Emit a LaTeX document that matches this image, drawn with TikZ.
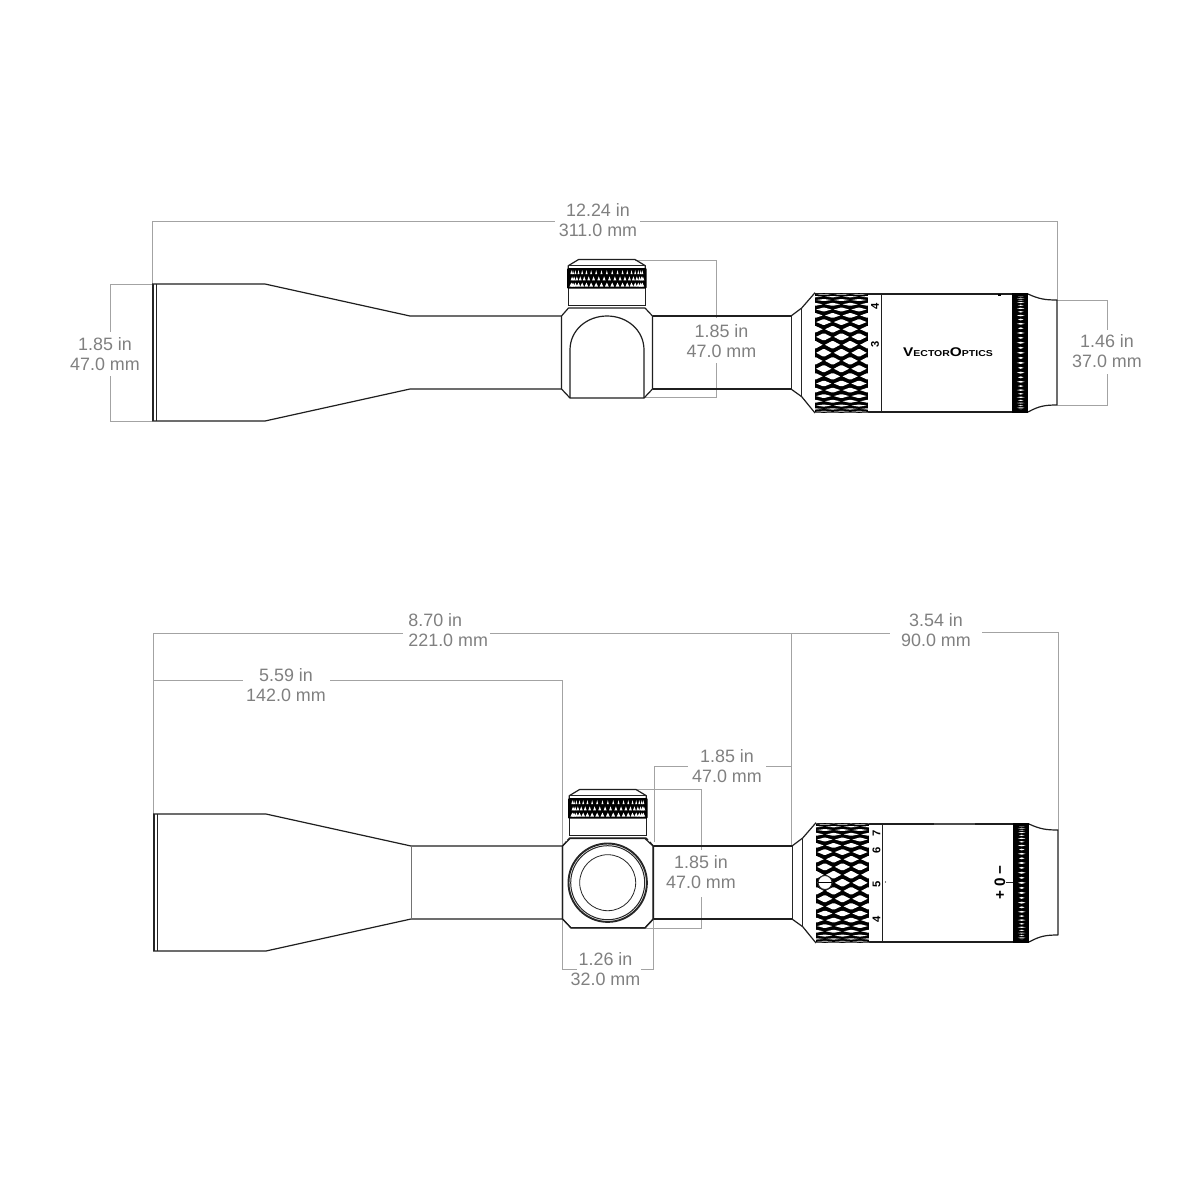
\documentclass[tikz,border=0pt]{standalone}
\usepackage{fontspec}
\setmainfont{Liberation Sans}
\definecolor{dimline}{HTML}{A3A3A3}
\definecolor{dimtxt}{HTML}{808080}
\tikzset{
  outline/.style={draw=black!88,line width=.6pt,line join=round},
  thinline/.style={draw=black!85,line width=.4pt},
  dimpath/.style={draw=dimline,line width=.5pt},
  dimlabel/.style={text=dimtxt,font=\fontsize{8.95}{10}\selectfont,align=center,inner sep=0pt},
  scale mark/.style={font=\fontsize{5.6}{6}\selectfont\bfseries,rotate=90,inner sep=0pt,text=black},
}
% coarse diamond knurl: x0 x1 cy R
\newcommand{\diamondknurl}[4]{%
  \fill[black] (#1,{#3-#4}) rectangle (#2,{#3+#4});
  \begin{scope}
    \clip (#1,{#3-#4}) rectangle (#2,{#3+#4});
    \foreach \i in {-11,...,11}{
      \pgfmathsetmacro{\yc}{#3+#4*sin(\i*7.7)}
      \pgfmathsetmacro{\hh}{3.45*cos(\i*7.7)*cos(\i*7.7)+.15}
      \pgfmathsetmacro{\sh}{mod(abs(\i),2)==0 ? 8.8 : 0}
      \foreach \k in {0,1,2,3}{
        \pgfmathsetmacro{\xc}{#1+\sh+\k*17.6}
        \fill[white] ({\xc-7.6},\yc) -- ({\xc-1},{\yc-\hh}) -- ({\xc+1},{\yc-\hh}) -- ({\xc+7.6},\yc) -- ({\xc+1},{\yc+\hh}) -- ({\xc-1},{\yc+\hh}) -- cycle;
      }
    }
  \end{scope}}
% fine knurl: x0 x1 cy R
\newcommand{\fineknurl}[4]{%
  \fill[black] (#1,{#3-#4}) rectangle (#2,{#3+#4});
  \foreach \i in {-15,...,15}{
    \pgfmathsetmacro{\yc}{#3+(#4-2)*sin(\i*5)}
    \pgfmathsetmacro{\hh}{1.05*cos(\i*5)}
    \pgfmathsetmacro{\mid}{(#1+#2)/2}
    \pgfmathsetmacro{\wd}{mod(abs(\i),2)==0 ? 3.8 : 2.8}
    \fill[white] ({\mid-\wd+.7},\yc) -- ({\mid+.7},{\yc-\hh}) -- ({\mid+\wd+.7},\yc) -- ({\mid+.7},{\yc+\hh}) -- cycle;
  }}
% turret knurl: x0 x1 y0 y1
\newcommand{\turretknurl}[4]{%
  \fill[black,rounded corners=.5pt] (#1,#3) rectangle (#2,#4);
  \foreach \r/\off in {0/0,1/4.2,2/0}{
    \pgfmathsetmacro{\yc}{#3+4.2+\r*6.2}
    \pgfmathsetmacro{\hw}{1+\r*.45}
    \foreach \i in {-9,...,9}{
      \pgfmathsetmacro{\xd}{(#1+#2)/2+36.5*sin(\i*8.5+\off)}
      \fill[white] ({\xd-\hw},{\yc+2}) -- ({\xd+\hw},{\yc+2}) -- (\xd,{\yc-2}) -- cycle;
    }
  }}
\newcommand{\eyepiece}{%
  \draw[outline] (0,316) -- (10.7,308) -- (24,292.7);
  \draw[outline] (0,389) -- (10.7,396.7) -- (24,413);
  \draw[thinline] (0,316) -- (0,389);
  \draw[thinline] (10.7,308) -- (10.7,396.7);
  \draw[outline] (77,294) -- (221,294);
  \draw[outline] (77,412) -- (221,412);
  \draw[outline] (90.7,294) -- (90.7,412);
  \draw[outline] (237,294) .. controls (248,299) and (254,300) .. (266,300) -- (266,405) .. controls (254,405) and (248,406) .. (237,412);
  \diamondknurl{24}{77}{352.8}{60}
  \fineknurl{221}{237}{352.8}{60}
}
\newcommand{\objective}[1]{%
  \draw[outline] (#1,284) -- (265,284) -- (410,316) -- (561,316);
  \draw[outline] (#1,421) -- (265,421) -- (410,389) -- (561,389);
  \draw[outline] (653,316) -- (791,316);
  \draw[outline] (653,389) -- (791,389);
  \draw[draw=black!85,line width=.9pt] ({#1+.7},284) -- ({#1+.7},421);
  \draw[thinline] ({#1+4.6},284) -- ({#1+4.6},421);
}
\newcommand{\turret}{%
  \draw[outline] (561.5,316) -- (561.5,389) -- (570,398) -- (644,398) -- (652.5,389) -- (652.5,316) -- (645,308) -- (568.5,308) -- cycle;
  \draw[outline] (568.5,305.6) -- (645.3,305.6);
  \draw[outline] (568.3,288) -- (568.3,306) (645.3,288) -- (645.3,306);
  \draw[outline] (568.3,268) -- (568.3,265.7) -- (578.6,259.5) -- (635,259.5) -- (645.3,265.7) -- (645.3,268);
  \draw[thinline] (568.3,265.7) -- (645.3,265.7);
  \turretknurl{567}{646.7}{268}{288.5}
}
\begin{document}
\begin{tikzpicture}[x=.5pt,y=-.5pt]
\useasboundingbox (0,0) rectangle (1200,1200);
\fill[white] (0,0) rectangle (1200,1200);

% ===== top view: dimensions =====
\draw[dimpath] (152,284) -- (152,221) -- (555,221) (640,221) -- (1057,221) -- (1057,300);
\draw[dimpath] (152,284) -- (110,284) -- (110,332) (110,376) -- (110,421) -- (152,421);
\draw[dimpath] (635,260) -- (716,260) -- (716,318) (716,363) -- (716,397) -- (644,397);
\draw[dimpath] (1057,300) -- (1107,300) -- (1107,330) (1107,374) -- (1107,405) -- (1057,405);
\node[dimlabel] (lenT) at (598,220) {12.24 in\\311.0 mm};
\node[dimlabel] (objT) at (105,354) {1.85 in\\47.0 mm};
\node[dimlabel] (turT) at (721.5,341) {1.85 in\\47.0 mm};
\node[dimlabel] (eyeT) at (1107,351) {1.46 in\\37.0 mm};

% ===== top view: scope =====
\objective{152}
\turret
\draw[outline] (570,398) -- (570,350) .. controls (570,330) and (587,316) .. (607,316) .. controls (627,316) and (644,330) .. (644,350) -- (644,398);
\begin{scope}[shift={(791,0)}]\eyepiece\end{scope}
\node[scale mark] (t4) at (875,306) {4};
\node[scale mark] (t3) at (875,344) {3};
\fill[black] (997.5,294) rectangle (1001,296);
\node[inner sep=0pt,text=black] (logo) at (948,352.5) {\scalebox{1.22}[1]{\bfseries\fontsize{6.3}{6}\selectfont V\fontsize{4.3}{6}\selectfont ECTOR\fontsize{6.3}{6}\selectfont O\fontsize{4.3}{6}\selectfont PTICS}};

% ===== bottom view: dimensions =====
\draw[dimpath] (153,814) -- (153,633) -- (403,633) (490,633) -- (890,633);
\draw[dimpath] (982,632) -- (1058,632) -- (1058,830);
\draw[dimpath] (153,680.5) -- (243,680.5) (330,680.5) -- (562,680.5) -- (562,845);
\draw[dimpath] (791.5,633) -- (791.5,846);
\draw[dimpath] (654,842) -- (654,766) -- (688,766) (766,766) -- (791.5,766);
\draw[dimpath] (635,789) -- (701,789) -- (701,850) (701,897) -- (701,928) -- (630,928);
\draw[dimpath] (562,920) -- (562,969) -- (577,969) (641,969) -- (653.5,969) -- (653.5,920);
\node[dimlabel,align=left,anchor=west] (lenA) at (408,630) {8.70 in\\221.0 mm};
\node[dimlabel] (lenB) at (936,630) {3.54 in\\90.0 mm};
\node[dimlabel] (lenC) at (286,685) {5.59 in\\142.0 mm};
\node[dimlabel] (mntA) at (727,766) {1.85 in\\47.0 mm};
\node[dimlabel] (mntB) at (701,872) {1.85 in\\47.0 mm};
\node[dimlabel] (mntC) at (605.5,969) {1.26 in\\32.0 mm};

% ===== bottom view: scope =====
\begin{scope}[shift={(1,530)}]
  \objective{152}
  \turret
  \begin{scope}[shift={(791,0)}]\eyepiece\end{scope}
\end{scope}
\draw[draw=black!55,line width=.4pt] (411,846) -- (411,919);
\fill[white] (566,840) rectangle (650,918);
\draw[outline] (562.5,846) -- (562.5,919) -- (571,927.7) -- (645,927.7) -- (653,919) -- (653,846) -- (645,838.5) -- (570,838.5) -- cycle;
\draw[black!85,line width=.95pt] (607.7,882.7) circle (39.2);
\draw[black!85,line width=.5pt] (607.7,882.7) circle (37);
\draw[black!85,line width=.4pt] (607.7,882.7) circle (28);
% windage screw
\filldraw[fill=white,draw=black!85,line width=.5pt] (825,882.5) circle (7);
\draw[black,line width=.5pt] (818,882.5) -- (832,882.5);
\node[scale mark] (b7) at (876.5,833) {7};
\node[scale mark] (b6) at (876.5,850) {6};
\node[scale mark] (b5) at (876.5,884) {5};
\node[scale mark] (b4) at (876.5,919) {4};
\fill[black] (885.5,882) circle (.6);
\fill[black!70] (934,823) rectangle (975,825);
\node[rotate=90,inner sep=0pt,text=black,font=\fontsize{7.6}{8}\selectfont\bfseries] (zero) at (1000,882.5) {+ 0 −};
\draw[thinline] (1006,882) -- (1013,882);
\end{tikzpicture}
\end{document}
